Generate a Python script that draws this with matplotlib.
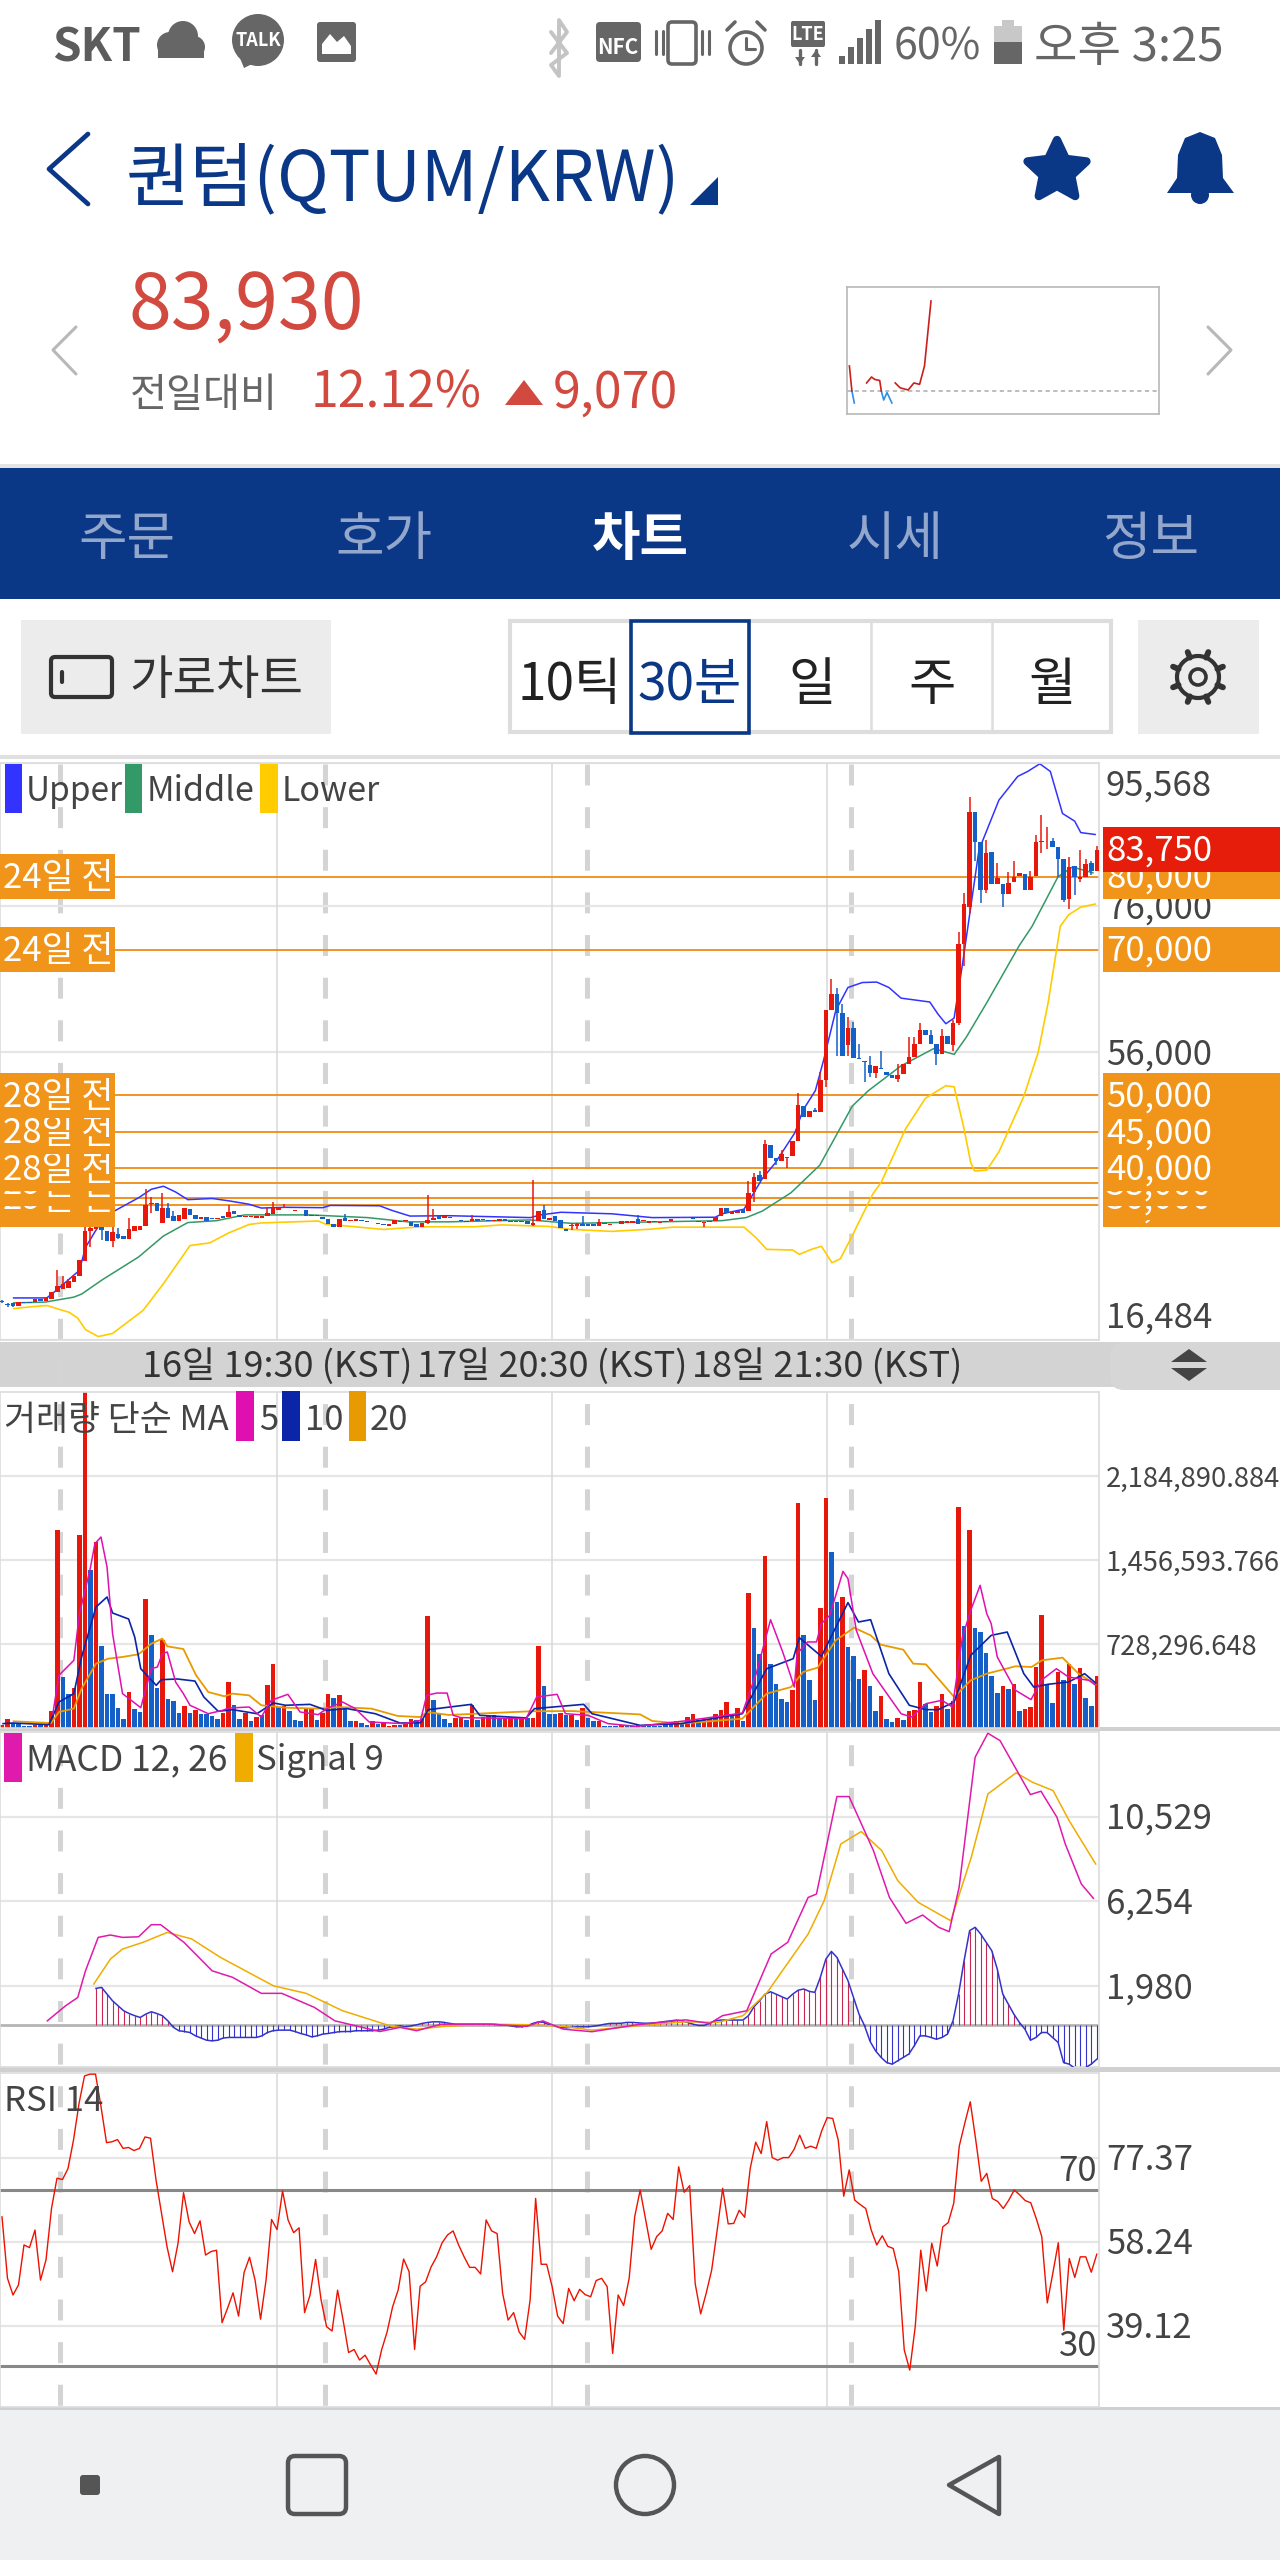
import numpy as np
import matplotlib
matplotlib.use('Agg')
import matplotlib.pyplot as plt
from matplotlib.patches import Rectangle, Circle, Polygon, FancyBboxPatch
from matplotlib.transforms import blended_transform_factory, ScaledTranslation

plt.rcParams['font.family'] = ['Noto Sans CJK KR', 'DejaVu Sans']
plt.rcParams['lines.scale_dashes'] = False
plt.rcParams['ytick.alignment'] = 'center'

# candles, one value per 30 minute bar
opens = [21780,21470,21570,21210,21680,21680,21730,22100,21840,22100,
    23040,23510,23670,24460,25240,27340,31370,31690,32580,31370,
    30110,31000,30740,30320,31370,31530,32050,35090,35300,32580,
    34570,33470,32840,33050,34410,33630,33000,33360,33150,33000,
    33520,33360,34150,33630,33360,33360,33260,33150,33470,33780,
    34250,34520,34360,34200,34150,34250,33630,33420,33360,33100,
    32420,32000,33260,32730,32840,32890,32730,32580,32470,32370,
    32160,32320,32790,32840,32680,32420,31950,32530,32940,33470,
    33150,33310,33100,32940,32680,32730,33050,32890,32890,32730,
    32730,33050,32680,32630,32630,32730,32210,32730,34250,32890,
    33470,32940,31690,32160,32160,32420,32320,32320,32110,32530,
    32260,32420,32420,32580,32580,33100,32730,32530,32790,32580,
    32630,32840,33150,33310,33310,33150,32840,32530,32680,32730,
    33470,34570,33780,33890,34410,34150,36770,39130,38600,43220,
    41430,40960,41490,41750,43740,48560,47090,48030,47770,52120,
    61660,63910,61240,56950,59250,55110,54740,54220,53120,53800,
    53270,52750,52230,53010,54320,55270,57050,59040,58250,57050,
    55630,58100,56950,59980,70730,75810,88910,84710,78170,83400,
    78950,78950,77640,79210,80110,80420,78220,80110,84710,84820,
    84920,84030,82360,76960,81470,79690,80000,81840,80780]
closes = [21680,21310,21210,21680,21520,21520,22100,21840,22260,23040,
    23830,24140,24560,25240,27490,31370,31790,32470,31530,30110,
    31270,30480,30320,31690,32050,32160,35040,35300,34150,34570,
    33260,32840,33630,34570,33630,33000,33360,32840,33050,33260,
    33210,34050,33780,33360,33520,33470,33520,33470,33890,34520,
    34520,34670,34250,34250,34200,33470,33470,33570,33050,32420,
    32000,33100,32730,32940,33100,32790,32630,32470,32370,32260,
    32320,32940,32680,32940,32050,31950,32580,32940,33260,33000,
    33470,33210,33000,32840,32840,33000,32840,33050,32790,32940,
    33100,32790,32790,32730,32730,32320,32470,34200,33050,33260,
    32840,31790,31370,32260,32320,32160,32110,32050,32680,32320,
    32420,32320,32730,32840,32840,32420,32940,32730,32680,32680,
    32730,33000,33260,33210,33150,33000,32630,32630,32840,33360,
    34570,33890,33990,34150,33890,36670,38870,38340,43320,41430,
    40960,42010,41590,43740,48660,46990,47930,47770,52120,61660,
    63910,61240,55370,59250,55110,54950,54590,53120,54060,53640,
    52750,52330,52860,54320,55270,57050,59040,58250,57050,55630,
    58100,57050,59980,70730,76230,88910,84710,78170,83250,78950,
    79740,77640,79060,79890,80520,78170,80000,84710,84920,84920,
    84030,82360,76750,81310,79900,80000,81730,80780,83670]
highs = [21940,21570,21570,21680,21680,21680,22100,22100,22260,23040,
    26030,25240,24820,25240,27490,34930,33630,34930,33100,31370,
    32050,31790,30740,33260,32050,32160,37140,36140,35300,36610,
    35300,34150,33630,34570,34410,33630,33360,33360,33150,33260,
    33520,34930,34150,33630,33520,33470,33520,33470,34670,35350,
    34670,35090,34360,34250,34200,34250,33630,33570,33360,33100,
    32420,33100,33780,32940,33100,32890,32730,32580,32470,32370,
    32320,32940,32790,32940,32680,32420,32580,36350,34410,33470,
    33470,33310,33100,32940,32840,33570,33050,33050,32890,32940,
    33100,33050,32790,32730,32730,32730,38450,34200,35040,33260,
    33470,32940,31690,32580,32580,33470,32320,32320,33100,32530,
    32420,32420,32730,32840,32840,33630,32940,32730,32790,32680,
    32730,33000,33260,33310,33310,33150,32840,32630,32840,33360,
    34570,34570,33990,34150,34410,38340,39390,39650,43950,43220,
    41430,42530,41590,43740,50400,48560,47930,48300,53270,61660,
    65960,64700,62600,60720,60090,57050,54740,55370,54060,56100,
    53270,52750,54320,54320,57990,57990,59980,59040,59040,57050,
    59150,58100,60350,72400,77800,90900,88910,84710,84980,83400,
    81830,78950,80630,82200,80520,80420,80790,85660,88380,86810,
    85340,84030,82360,82620,81470,83670,82360,82100,84190]
lows = [21520,21050,21050,21210,21520,21520,21730,21840,21840,22100,
    23040,23510,23670,24460,25240,27340,29170,31690,30220,30110,
    29280,30320,30320,30320,31370,31530,32050,33890,34150,32580,
    33260,32840,32840,33050,33630,33000,33000,32840,33050,33000,
    33210,33360,33780,33360,33360,33360,33260,33150,33470,33780,
    34250,34520,34250,34200,34150,33470,33470,33420,33050,32420,
    32000,32000,32730,32730,32840,32790,32630,32470,32370,32260,
    32160,32320,32680,32840,32050,31950,31950,32320,32940,33000,
    33150,33210,33000,32840,32680,32730,32840,32890,32790,32730,
    32730,32790,32680,32630,32630,32320,32050,32730,33050,32890,
    32840,31790,31370,31530,31690,32160,32110,32050,32110,32320,
    32260,32320,32420,32580,32580,32420,32730,32530,32680,32580,
    32630,32840,33150,33210,33150,33000,32630,31950,32680,32730,
    33470,33890,33780,33890,33890,34150,35460,38340,38600,41430,
    40440,40960,40070,41750,43740,46990,47090,47770,47770,51180,
    61660,55370,55370,55370,55110,54950,51810,52490,52330,53640,
    52750,52330,51810,53010,54320,55270,57050,58250,57050,54220,
    55630,57050,56160,59670,67690,75020,82100,76440,77800,78950,
    78950,75810,77640,79210,80110,78170,78220,80110,83250,83770,
    84030,80000,76490,75550,77480,79210,80000,80210,80780]

upper_x = [2.1,8.1,9.6,14,15.1,17.4,20.3,24.7,27,29.2,31.4,33.6,38,41,44.7,46.9,51.3,58,59.4,68.3,70.5,73.8,80.8,95.6,97.4,101.1,110.3,117.6,129,130.2,134.2,137.5,139.8,143.4,144.9,147.1,148.6,150.8,153,155.6,158.2,160.4,162.6,167.8,169.3,170.7,172.2,173.7,176.7,180.3,183.7,185.5,187.7,189.6,191.8,194,195.1,197.7]
upper_y = [22250,22250,23150,26030,29170,32050,34150,35980,37140,37560,36770,35720,35880,35560,35090,34570,34670,34620,34930,34880,34250,33470,33520,33260,33630,33990,33780,33260,33310,33780,34410,38600,40700,44890,48030,50660,54850,61660,64800,65480,65540,64800,63340,62810,61130,59830,60610,67950,83670,90480,93730,94410,95460,94410,88650,87600,86030,85770]
middle_x = [2.1,7.8,13,14.4,18.1,24.7,29.2,33.6,38.8,43.9,55.7,66.1,73.4,80.8,95.6,103,130.2,134.6,137.5,142.7,147.9,153.8,156.7,162.6,168.5,172.2,174.4,178.1,184,186.3,191,193.6,197.3]
middle_y = [21570,21680,22360,22780,24720,27860,30740,32580,32840,33630,33630,33260,32680,32680,32940,32470,32840,33260,34150,36670,40440,48560,50660,54060,56420,55630,57990,62710,70570,73190,80000,81310,80520]
lower_x = [2.1,5.5,8.1,12.2,13.7,15.1,17.4,20,25.5,29.2,34,37.6,41,44.7,46.9,57.2,58.7,61.6,69,75.7,85.3,90.4,98.9,103,110.3,117.6,121.3,134.2,136.4,138.3,143,144.2,146.4,148.2,150.1,151.6,153.4,157.5,159,163.4,167,170.7,172.2,174,175.2,175.9,178.1,180.3,184.8,187.4,189.2,191.4,192.9,195.1,197.7]
lower_y = [20790,21050,21210,20260,19480,17910,16960,17380,20530,24200,29430,29800,31160,32320,32530,32790,32320,32160,31640,32000,32000,32260,32050,31640,31370,31690,31950,31950,30480,28910,28810,28230,28910,29330,27070,27600,30220,36510,38080,45410,49610,51340,51180,45410,40800,39650,39760,42270,49870,55900,62710,73190,74760,75810,76230]

volume = [29000,81000,43000,32000,17000,17000,29000,23000,32000,145000,
    1714000,442000,292000,350000,1670000,2913000,1373000,1613000,714000,298000,
    292000,173000,75000,312000,168000,136000,1121000,806000,344000,760000,
    251000,234000,130000,188000,130000,153000,118000,118000,104000,81000,
    130000,396000,197000,75000,130000,61000,95000,110000,376000,552000,
    182000,188000,145000,66000,61000,168000,176000,66000,130000,298000,
    260000,283000,173000,61000,58000,43000,29000,58000,38000,43000,
    20000,29000,29000,38000,75000,66000,81000,968000,246000,118000,
    81000,43000,90000,95000,72000,197000,66000,95000,101000,110000,
    81000,90000,95000,81000,81000,87000,90000,714000,367000,124000,
    124000,130000,110000,116000,66000,173000,90000,61000,61000,20000,
    20000,14000,29000,17000,20000,29000,23000,17000,17000,17000,
    23000,38000,58000,38000,95000,118000,72000,81000,81000,118000,
    159000,228000,110000,173000,61000,1170000,867000,639000,1491000,558000,
    384000,251000,223000,327000,1948000,806000,413000,240000,1043000,1994000,
    1523000,1092000,1136000,702000,621000,422000,500000,361000,145000,275000,
    75000,52000,90000,66000,150000,159000,396000,211000,139000,188000,
    292000,168000,231000,1916000,881000,1714000,867000,835000,650000,448000,
    303000,361000,341000,379000,145000,168000,182000,529000,983000,370000,
    220000,486000,413000,558000,384000,523000,263000,188000,451000]
volume_side = ('rrbbbbrbrr' 'rbbrrrbrbb' 'bbbrbbrbbr' 'bbbrbrbbbb' 'rrbbrbrbrr'
    'brbbbrrbrr' 'brbbrbbrbr' 'rrbrrbrrbb' 'bbrrbrbrrb' 'brrbrbrrbb'
    'brbrbrbbrb' 'bbrbbrbbbb' 'bbrbrrbrrr' 'rrbrbrbbrb' 'bbbrrbbbrr'
    'bbrbbbrbbr' 'bbrbrrrbbr' 'rbrrbrbbbb' 'brbrbrrrrb' 'brbrbrbbr')

ma5_x = [9.2,10.3,13,14,15.9,16.8,17.9,19,20,21.8,25.1,27,28.1,29,29.9,31.4,32.8,34,37.3,39.9,41,44.7,46.9,48.7,51.7,53.9,57.2,58.7,61.6,63.9,66.4,72.7,75.7,76.8,78.6,80.5,81.6,83,94.8,96.7,100.4,101.9,106,109.6,114.8,124.3,133.9,136.4,139,141.2,143.3,143.8,145.7,147.3,148.2,149.7,152.1,153,154.5,157.5,162.6,164.5,167.1,170,171.9,173.7,175.2,176.9,178.1,178.9,180,183.3,186.1,188.1,190.7,192.9,196.6,197.8]
ma5_y = [124000,457000,587000,991000,1367000,1598000,1656000,1396000,818000,298000,176000,514000,529000,644000,659000,399000,298000,197000,124000,153000,173000,182000,95000,240000,292000,139000,116000,168000,225000,168000,52000,38000,66000,283000,303000,303000,110000,90000,81000,269000,292000,124000,110000,38000,14000,66000,130000,471000,939000,659000,355000,644000,746000,746000,905000,977000,1358000,1295000,847000,471000,124000,95000,211000,240000,182000,789000,1020000,1237000,991000,905000,616000,327000,246000,419000,514000,442000,413000,370000]
ma10_x = [0.2,1.9,8.5,10.3,13,14.4,17,19,20,22.9,24,25.1,27.9,28.8,31.7,34.9,36.5,39.1,41.7,46.1,49.1,51.3,55.7,58.7,62.4,67.5,72,75.7,77.1,84.9,86.4,94.8,96.3,105.2,106.7,115.4,122.8,130.2,133.9,138.3,143.1,144.2,148.2,153,154.9,157.1,160.4,164.1,167.1,169.3,172.2,175.2,178.9,181.8,184.8,186.6,189.2,192.9,195.8,197.8]
ma10_y = [38000,43000,29000,225000,298000,616000,1049000,1136000,997000,945000,789000,514000,370000,419000,425000,407000,269000,145000,159000,124000,217000,197000,205000,153000,168000,124000,43000,46000,159000,205000,110000,87000,168000,205000,124000,23000,38000,95000,124000,514000,601000,783000,621000,1087000,919000,939000,471000,197000,159000,159000,225000,630000,803000,832000,471000,355000,379000,399000,471000,390000]
ma20_x = [2.1,8.9,10.3,13,14.4,17,19.2,21.8,24.7,27,29,29.9,32.8,35.1,37.3,40.2,41.7,44.7,46.9,51.3,57.2,60.9,66.8,71.6,75.7,76.8,80.8,95.6,103,115.4,117.6,122.8,133.9,138.3,142.7,144.9,147.5,150.8,154.1,157.1,158.9,163,164.8,167.1,172.2,175.2,178.1,183.3,186.2,188.1,191.8,194.7,197.8]
ma20_y = [58000,43000,139000,168000,341000,558000,601000,616000,639000,731000,775000,708000,685000,457000,312000,275000,298000,283000,197000,176000,168000,182000,168000,104000,95000,139000,113000,145000,147000,118000,61000,38000,81000,298000,355000,486000,523000,760000,870000,803000,723000,679000,558000,552000,269000,413000,471000,535000,529000,587000,610000,471000,379000]

macd_x = [8.2,11.5,13.7,15.1,17.4,19.6,21.8,24.7,27,28.7,32.9,38,41.7,46.9,50.6,56.5,60.2,68.3,72,75,79.4,88.2,94.9,97.8,101.5,106.7,114.8,123.6,128,130.3,134.7,139.1,142.1,145.8,147.3,151,153.2,157.6,160.5,163.5,166.5,169.4,171.3,173.1,176,178.3,180.5,186,187.9,190.8,192.3,195.2,197.4]
macd_y = [200,960,1380,2730,4420,4540,4420,4450,5060,5060,4170,2730,2400,1590,1590,880,200,-340,-130,-300,30,30,-80,200,-220,-350,0,250,70,460,710,3580,4170,6440,6610,11540,11540,8810,6440,5130,5550,4930,4710,6950,13530,14740,14370,11640,11810,10490,9140,7120,6390]
signal_x = [16.6,19.6,21.8,25.5,29.9,34.3,39.5,49.1,55,61.6,70.5,75,80.1,88.2,95.6,101.5,106.7,114.8,123.6,129.5,134,138.4,145.8,148.7,151.7,155.4,159.1,162,165.7,171.6,175.3,178.3,183.4,186.4,190.1,193,197.8]
signal_y = [2060,3320,3830,4170,4670,4340,3410,1970,1590,710,-80,-220,-80,30,0,-80,-270,-50,150,120,460,1640,4590,6280,9140,9770,8810,7290,6190,5260,8470,11670,12740,12260,11840,10320,8130]
# oscillator starts at bar 17 and runs to the last bar
osc = [1840,1890,1550,1210,960,710,570,460,370,540,660,570,460,200,-130,-300,-340,-390,-560,-670,-780,-810,-780,-670,-640,-640,-640,-640,-640,-640,-560,-390,-300,-270,-270,-270,-340,-440,-510,-610,-560,-470,-440,-390,-350,-340,-340,-300,-300,-300,-300,-270,-220,-130,-100,-50,-100,-50,0,70,120,150,150,120,70,30,30,30,30,30,30,30,30,0,0,-50,-100,-100,-50,70,150,120,0,-70,-130,-150,-130,-100,-100,-100,-70,-30,30,70,70,80,120,120,100,80,80,100,130,170,200,240,200,120,30,-30,-30,70,200,240,240,240,240,240,460,910,1210,1550,1670,1550,1420,1300,1550,1750,1810,1690,1640,2400,3320,3710,3410,2820,2230,1380,540,-50,-840,-1320,-1650,-1910,-1990,-1820,-1650,-1480,-1060,-560,-560,-640,-730,-640,-470,200,1550,3240,4760,4930,4590,4170,3750,2820,1550,1050,540,120,-220,-780,-640,-390,-390,-640,-890,-1910,-1990,-2190,-2280,-2160,-1990,-1740]

rsi = [63.9,49.9,46.1,48.4,57.5,56.9,60.9,49.5,54.1,65.8,72.7,72.4,74.9,81.4,89.7,96,96.4,96.4,89,80.8,81,81.5,79.5,79.7,79,79.5,82.1,81.8,72.3,64.7,57.1,51.4,57.9,69.4,62.8,60.1,63,55.2,56,56.3,39.8,43.1,46.6,41.3,51.2,54.7,49.5,40.6,49.5,63.3,61,69.8,63.2,60.3,61.4,42.1,46.1,54.2,45,38.9,37.9,47.2,40.4,33,33.7,31.3,32.4,30.2,28.1,33.6,37.7,43.4,47.2,54.3,51.4,33.7,48.1,49.1,52.5,54.8,58,59.8,60.7,57.5,54.8,52.4,52.4,50.9,63.2,60.7,60.1,46.5,40.4,42.1,37.7,36,45,68.1,53.1,53.1,48,41.3,39.6,47.6,44.8,47.4,46.2,45.7,49.4,49.9,48,32.8,46.1,43.7,49.9,63.9,70,63.2,56.5,59.4,60.7,64.7,63.3,75.3,69.5,71,48.7,41.8,46.5,51.8,60.9,70.4,62.3,62.4,65.4,63.8,74.9,80.9,78.3,85.6,77.4,76.8,77.4,77.4,79.3,82.5,79.5,80,79.5,83.5,86.5,86.3,81.4,68.6,74.6,67.7,66.7,65.8,60.9,57.5,59.6,57.2,56.7,51.4,33.6,29,38.9,56.3,47,57.9,52.7,61.6,62.6,67,80,85.2,90.1,81.4,72,73.8,68.1,67.4,65.8,67.7,70,68.9,67.6,67.1,63.5,59.4,44.3,51,58,38.1,54.4,50.1,54.8,54.8,51.3,55.4]

price_ticks = [95568, 76000, 56000, 36000, 16484]
price_labels = ['95,568', '76,000', '56,000', '', '16,484']
volume_ticks = [2184890.884, 1456593.766, 728296.648]
volume_labels = ['2,184,890.884', '1,456,593.766', '728,296.648']
macd_ticks = [10529, 6254, 1980]
macd_labels = ['10,529', '6,254', '1,980']
rsi_ticks = [77.37, 58.24, 39.12]
rsi_labels = ['77.37', '58.24', '39.12']

# saved price lines, lowest first so that higher boxes overlap lower ones
saved_prices = [35000, 36000, 38000, 40000, 45000, 50000, 70000, 80000]
saved_ages = ['29일 전', '29일 전', '29일 전', '28일 전', '28일 전', '28일 전', '24일 전', '24일 전']
last_price = 83750

day_bars = [49.8, 99.5, 149.2]
day_labels = ['16일 19:30 (KST)', '17일 20:30 (KST)', '18일 21:30 (KST)']

spark_x = [2.4,4.9,7.3,11.4,14.7,19.6,24.5,27.8,32.7,34.3,36.7,40,44.9,48.2,53.1,61.2,66.9,72.6,77.5,84]
spark_y = [77380,74860,73650,74890,74600,75670,76270,76020,75920,74860,73950,74700,73650,75670,75180,74960,75670,75530,77380,83930]
prev_close = 74860

W, H = 1280, 2560
NAVY = '#0a3786'
INK = '#444444'
RED = '#e8170c'
BLUE = '#1560c8'
ORANGE_BOX = '#f0951a'
GRID = '#e6e6e6'
VLINE = '#d8d8d8'
LABEL = 25

fig = plt.figure(figsize=(12.8, 25.6), dpi=100, facecolor='white')


def pane(x0, y0, x1, y1, zorder=1):
    return fig.add_axes([x0 / W, 1 - y1 / H, (x1 - x0) / W, (y1 - y0) / H], zorder=zorder)


# page layer in screen pixels
bg = pane(0, 0, W, H, zorder=0)
bg.set_xlim(0, W)
bg.set_ylim(H, 0)
bg.axis('off')


def txt(x, y, s, size, color=INK, weight='normal', ha='left', ax=bg):
    # the CJK font box sits high, so push the glyphs back onto the centre line
    return ax.text(x, y + 0.13 * size, s, fontsize=size, color=color, fontweight=weight, ha=ha, va='center')


def box(x0, y0, x1, y1, **kw):
    bg.add_patch(Rectangle((x0, y0), x1 - x0, y1 - y0, **kw))


def rbox(x0, y0, x1, y1, r, **kw):
    bg.add_patch(FancyBboxPatch((x0 + r, y0 + r), x1 - x0 - 2 * r, y1 - y0 - 2 * r,
                                boxstyle='round,pad=%f' % r, **kw))


def line(xs, ys, color, lw, **kw):
    bg.plot(xs, ys, color=color, lw=lw, solid_capstyle='round', **kw)


# status bar
GREY = '#666666'
txt(52, 44, 'SKT', 33, '#5c5c5c', 'bold')
for cx, cy, r in [(170, 45, 13), (183, 36, 15), (194, 47, 11)]:
    bg.add_patch(Circle((cx, cy), r, color=GREY, lw=0))
box(158, 45, 204, 58, color=GREY, lw=0)
bg.add_patch(Circle((258, 40), 26, color=GREY, lw=0))
bg.add_patch(Polygon([(240, 58), (244, 68), (256, 62)], color=GREY, lw=0))
bg.text(258, 41, 'TALK', fontsize=13, color='white', fontweight='bold', ha='center', va='center')
rbox(317, 22, 356, 62, 3, color=GREY, lw=0)
bg.add_patch(Polygon([(322, 54), (322, 44), (330, 34), (337, 42), (344, 36), (351, 46), (351, 54)], color='white', lw=0))
line([551, 567, 551, 559, 559, 567, 551], [32, 53, 65, 76, 20, 32, 53], '#c4c4c4', 2.8)
rbox(596, 22, 641, 62, 4, color=GREY, lw=0)
bg.text(618, 47, 'NFC', fontsize=15, color='white', fontweight='bold', ha='center', va='center')
rbox(668, 22, 696, 64, 4, fc='white', ec=GREY, lw=2.6)
for lx in (656, 663, 702, 709):
    line([lx, lx], [31, 54], GREY, 2.2)
bg.add_patch(Circle((746, 48), 16, fc='white', ec=GREY, lw=2.6))
line([746, 746, 755], [38, 49, 49], GREY, 2.2)
line([727, 735], [30, 22], GREY, 2.6)
line([757, 765], [22, 30], GREY, 2.6)
rbox(791, 21, 825, 47, 2, color=GREY, lw=0)
bg.text(808, 34, 'LTE', fontsize=13, color='white', fontweight='bold', ha='center', va='center')
line([800, 800], [50, 64], GREY, 2.4)
line([816, 816], [50, 64], GREY, 2.4)
bg.add_patch(Polygon([(795, 57), (805, 57), (800, 64)], color=GREY, lw=0))
bg.add_patch(Polygon([(811, 57), (821, 57), (816, 50)], color=GREY, lw=0))
for k, top in enumerate([56, 47, 38, 29, 20]):
    box(839 + k * 9, top, 845 + k * 9, 64, color=GREY, lw=0)
txt(894, 43, '60%', 31, GREY)
box(994, 26, 1022, 64, color=GREY, lw=0)
box(1002, 20, 1014, 26, color='#c8c8c8', lw=0)
box(994, 26, 1022, 42, color='#c8c8c8', lw=0)
txt(1034, 43, '오후 3:25', 34, GREY)

# title row
line([88, 49, 88], [134, 169, 204], NAVY, 3.4)
txt(126, 174, '퀀텀(QTUM/KRW)', 50.3, NAVY)
bg.add_patch(Polygon([(718, 177), (690, 205), (718, 205)], color=NAVY, lw=0))
star_a = np.arange(10) * np.pi / 5 - np.pi / 2
star_r = np.array([31, 15] * 5)
bg.add_patch(Polygon(np.c_[1057 + star_r * np.cos(star_a), 171 + star_r * np.sin(star_a)],
                     fc=NAVY, ec=NAVY, lw=6, joinstyle='round'))
bg.add_patch(Polygon([(1200, 132), (1215, 138), (1222, 155), (1223, 178), (1234, 193), (1167, 193), (1177, 178), (1178, 155), (1185, 138)], color=NAVY, lw=0))
bg.add_patch(Circle((1200, 195), 9, color=NAVY, lw=0))

# price row
PRICE_RED = '#d24a3f'
txt(129, 301, '83,930', 55.5, PRICE_RED)
txt(130, 392, '전일대비', 29, GREY)
txt(311, 389, '12.12%', 36, PRICE_RED)
bg.add_patch(Polygon([(505, 405), (543, 405), (524, 380)], color=PRICE_RED, lw=0))
txt(553, 389, '9,070', 36, PRICE_RED)
line([76, 53, 76], [327, 350, 374], '#b8b8b8', 2.2)
line([1208, 1231, 1208], [327, 350, 374], '#b8b8b8', 2.2)

spark = pane(847, 287, 1159, 414)
spark.set_xlim(0, 312)
spark.set_ylim(72540, 85340)
spark.set_xticks([])
spark.set_yticks([])
for s in spark.spines.values():
    s.set_color('#b8b8b8')
    s.set_linewidth(1.2)
spark_y = np.array(spark_y, dtype=float)
spark.axhline(prev_close, color='#bdbdbd', lw=1.4, ls=(0, (3, 2.5)))
spark.plot(spark_x, np.where(spark_y <= prev_close, spark_y, np.nan), color='#2f8fe0', lw=1.2)
spark.plot(spark_x, np.where(spark_y >= prev_close, spark_y, np.nan), color='#cc1f1a', lw=1.2)

# tabs
box(0, 464, W, 468, color='#e4e4e4', lw=0)
box(0, 468, W, 599, color=NAVY, lw=0)
TAB = '#93a6cb'
for x, s, c, w in [(127, '주문', TAB, 'normal'), (384, '호가', TAB, 'normal'), (640, '차트', 'white', 'bold'),
                   (895, '시세', TAB, 'normal'), (1151, '정보', TAB, 'normal')]:
    txt(x, 535, s, 38, c, w, 'center')

# chart controls
box(21, 620, 331, 734, color='#ececec', lw=0)
rbox(51, 657, 112, 697, 4, fc='none', ec='#333333', lw=3)
line([62, 62], [672, 682], '#333333', 3)
txt(129, 676, '가로차트', 34, '#333333')
box(510, 621, 1111, 732, fc='white', ec='#dddddd', lw=3)
for x in (871, 992):
    line([x, x], [621, 732], '#dddddd', 1.8)
box(631, 621, 749, 733, fc='white', ec=NAVY, lw=2.6, zorder=3)
for x, s, c in [(570, '10틱', '#222222'), (690, '30분', NAVY), (812, '일', '#222222'), (932, '주', '#222222'), (1052, '월', '#222222')]:
    txt(x, 680, s, 37, c, 'normal', 'center').set_zorder(4)
box(1138, 620, 1259, 734, color='#ececec', lw=0)
bg.add_patch(Circle((1198, 677), 21, fc='none', ec='#333333', lw=3))
bg.add_patch(Circle((1198, 677), 8, fc='none', ec='#333333', lw=2.6))
for a in np.arange(8) * np.pi / 4 + np.pi / 8:
    line([1198 + 21 * np.cos(a), 1198 + 27 * np.cos(a)], [677 + 21 * np.sin(a), 677 + 27 * np.sin(a)], '#333333', 4.2)
box(0, 755, W, 759, color='#e0e0e0', lw=0)

# dashed day separators run behind all the panes
for x in (60, 324.5, 587, 851):
    bg.plot([x, x], [764, 2407], color='#d4d4d4', lw=3.6, ls=(0, (15.1, 15.6)), dash_capstyle='butt')

# pane separators and the time band
box(0, 1342, W, 1387, color='#d3d3d3', lw=0)
rbox(1110, 1342, W + 20, 1390, 14, color='#d6d6d6', lw=0)
box(0, 1727, W, 1731, color='#d0d0d0', lw=0)
box(0, 2067, W, 2072, color='#d0d0d0', lw=0)
box(0, 2407, W, 2410, color='#d0d0d0', lw=0)
bg.add_patch(Polygon([(1171, 1362), (1207, 1362), (1189, 1349)], color='#444444', lw=0))
bg.add_patch(Polygon([(1171, 1368), (1207, 1368), (1189, 1381)], color='#444444', lw=0))

# bottom navigation
box(0, 2410, W, H, color='#eff0f2', lw=0)
rbox(80, 2475, 100, 2495, 3, color='#555555', lw=0)
rbox(288, 2456, 346, 2514, 7, fc='none', ec='#555555', lw=3.2)
bg.add_patch(Circle((645, 2485), 29, fc='none', ec='#555555', lw=3.2))
bg.add_patch(Polygon([(949, 2485), (999, 2457), (999, 2514)], fc='none', ec='#555555', lw=3.2, joinstyle='round'))


def chart_pane(y0, y1, ylim, ticks, labels):
    ax = pane(0, y0, 1099, y1)
    ax.patch.set_visible(False)
    ax.set_xlim(-0.36, 198.4)
    ax.set_ylim(*ylim)
    ax.set_xticks([])
    ax.yaxis.tick_right()
    ax.set_yticks(ticks)
    ax.set_yticklabels(labels)
    ax.tick_params(axis='y', length=0, pad=5, labelsize=LABEL, labelcolor=INK)
    for lab in ax.get_yticklabels():
        lab.set_transform(lab.get_transform() + ScaledTranslation(0, -0.03, fig.dpi_scale_trans))
    for t in ticks:
        ax.axhline(t, color=GRID, lw=1.6, zorder=1)
    for b in day_bars:
        ax.axvline(b, color=VLINE, lw=1.1, zorder=1)
    for s in ax.spines.values():
        s.set_color('#dcdcdc')
        s.set_linewidth(1.2)
    return ax


x = np.arange(len(closes))
opens = np.array(opens)
closes = np.array(closes)
highs = np.array(highs)
lows = np.array(lows)

# price pane
ax = chart_pane(763, 1340, (16484, 95568), price_ticks, price_labels)
labs = ax.get_yticklabels()
# the first and last scale labels sit inside the pane
labs[0].set_transform(labs[0].get_transform() + ScaledTranslation(0, -0.20, fig.dpi_scale_trans))
labs[-1].set_transform(labs[-1].get_transform() + ScaledTranslation(0, 0.25, fig.dpi_scale_trans))
for p in saved_prices:
    ax.axhline(p, color='#f08c14', lw=1.3, zorder=1.5)
ax.plot(upper_x, upper_y, color='#3333ff', lw=1.1, zorder=2)
ax.plot(middle_x, middle_y, color='#339966', lw=1.1, zorder=2)
ax.plot(lower_x, lower_y, color='#ffcc00', lw=1.2, zorder=2)
candle_colors = [RED if c >= o else BLUE for o, c in zip(opens, closes)]
ax.vlines(x, lows, highs, colors=candle_colors, lw=1.1, zorder=3)
ax.bar(x, np.abs(closes - opens), bottom=np.minimum(opens, closes), width=0.82, color=candle_colors, lw=0, zorder=3)

# volume pane
vol = chart_pane(1392, 1728, (0, 2913186), volume_ticks, volume_labels)
vol.tick_params(axis='y', labelsize=19.7)
vol.bar(x, volume, width=0.82, color=[RED if s == 'r' else BLUE for s in volume_side], lw=0, zorder=2)
vol.plot(ma20_x, ma20_y, color='#e89b00', lw=1.3, zorder=3)
vol.plot(ma10_x, ma10_y, color='#0a25a8', lw=1.2, zorder=3)
vol.plot(ma5_x, ma5_y, color='#e010b0', lw=1.1, zorder=3)

# macd pane
mac = chart_pane(1732, 2067, (-2134, 14804), macd_ticks, macd_labels)
osc_x = x[len(x) - len(osc):]
mac.axhline(0, color='#b4b4b4', lw=2, zorder=1.5)
mac.vlines(osc_x, 0, osc, colors=['#c8284f' if v > 0 else '#3333cc' for v in osc], lw=0.8, zorder=2)
mac.plot(osc_x, osc, color='#3333cc', lw=1.1, zorder=3)
mac.plot(signal_x, signal_y, color='#f0ad00', lw=1.1, zorder=3)
mac.plot(macd_x, macd_y, color='#e01aac', lw=1.1, zorder=3)

# rsi pane
ind = chart_pane(2073, 2407, (20.6, 96.66), rsi_ticks, rsi_labels)
ind.axhline(70, color='#888888', lw=2.2, zorder=1.5)
ind.axhline(30, color='#888888', lw=2.2, zorder=1.5)
ind.plot(np.linspace(0, 198, len(rsi)), rsi, color='#ee1100', lw=1, zorder=3)
ind.text(198.1, 70.3, '70', fontsize=LABEL, color=INK, ha='right', va='bottom')
ind.text(198.1, 30.3, '30', fontsize=LABEL, color=INK, ha='right', va='bottom')

# top layer, boxes on the price axis overlap the tick labels
over = pane(0, 0, W, H, zorder=5)
over.patch.set_visible(False)
over.set_xlim(0, W)
over.set_ylim(H, 0)
over.axis('off')
price_tr = blended_transform_factory(over.transData, ax.transData)
BOX_H = 6164
TEXT_DROP = 250
z = 10
for p, age in zip(saved_prices, saved_ages):
    label = format(p, ',')
    over.add_patch(Rectangle((1103, p - BOX_H / 2), 177, BOX_H, transform=price_tr, color=ORANGE_BOX, lw=0, zorder=z))
    over.text(1106, p - TEXT_DROP, label, transform=price_tr, fontsize=LABEL, color='white', va='center', zorder=z)
    over.add_patch(Rectangle((0, p - BOX_H / 2), 115, BOX_H, transform=price_tr, color=ORANGE_BOX, lw=0, zorder=z))
    over.text(3, p - TEXT_DROP, age, transform=price_tr, fontsize=LABEL, color='white', va='center', zorder=z)
    z += 1
over.add_patch(Rectangle((1103, last_price - BOX_H / 2), 177, BOX_H, transform=price_tr, color='#e61d0a', lw=0, zorder=z))
over.text(1106, last_price - TEXT_DROP, format(last_price, ','), transform=price_tr, fontsize=LABEL, color='white', va='center', zorder=z)


def swatch(x0, x1, y0, y1, color):
    over.add_patch(Rectangle((x0, y0), x1 - x0, y1 - y0, color=color, lw=0))


# legends
swatch(4.5, 21.5, 764, 813, '#3333ff')
txt(26, 788, 'Upper', 24, ax=over)
swatch(124.5, 142, 764, 813, '#339966')
txt(147, 788, 'Middle', 24.5, ax=over)
swatch(260, 277.5, 764, 813, '#ffcc00')
txt(282, 788, 'Lower', 24.5, ax=over)

txt(4, 1417, '거래량 단순 MA', LABEL, ax=over)
swatch(236, 254, 1391, 1441, '#e010b0')
txt(259, 1417, '5', LABEL, ax=over)
swatch(282, 300, 1391, 1441, '#0a25a8')
txt(305, 1417, '10', LABEL, ax=over)
swatch(349, 366, 1391, 1441, '#e89b00')
txt(370, 1417, '20', LABEL, ax=over)

swatch(4, 22, 1733, 1782, '#e01aac')
txt(26, 1757, 'MACD 12, 26', 25.5, ax=over)
swatch(235, 253, 1733, 1782, '#f0ad00')
txt(256, 1757, 'Signal 9', LABEL, ax=over)

txt(4, 2098, 'RSI 14', LABEL, ax=over)

# day labels in the time band
time_tr = blended_transform_factory(ax.transData, over.transData)
for b, s in zip(day_bars, day_labels):
    over.text(b, 1367, s, transform=time_tr, fontsize=26, color='#333333', ha='center', va='center')

fig.savefig('out.png', dpi=100)
